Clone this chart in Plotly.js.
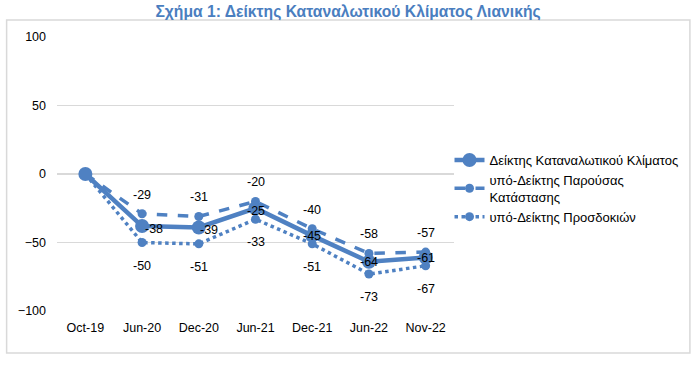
<!DOCTYPE html>
<html>
<head>
<meta charset="utf-8">
<script src="https://cdn.plot.ly/plotly-3.0.1.min.js"></script>
<style>html,body{margin:0;padding:0;background:#fff;}#chart{width:696px;height:367px;}</style>
</head>
<body>
<div id="chart"></div>
<script>
const categories = ["Oct-19", "Jun-20", "Dec-20", "Jun-21", "Dec-21", "Jun-22", "Nov-22"];
const climateIndex = [0, -38, -39, -25, -45, -64, -61];
const presentIndex = [0, -29, -31, -20, -40, -58, -57];
const expectIndex = [0, -50, -51, -33, -51, -73, -67];
const seriesNames = ["Δείκτης Καταναλωτικού Κλίματος", "υπό-Δείκτης Παρούσας<br>Κατάστασης", "υπό-Δείκτης Προσδοκιών"];
const yTicks = [-100, -50, 0, 50, 100];
const titleText = "Σχήμα 1: Δείκτης Καταναλωτικού Κλίματος Λιανικής";

const blue = "#4f81c2";
const font = "Liberation Sans, Arial, sans-serif";
const fs = 12.5;

const traces = [
  {x: categories, y: presentIndex, name: seriesNames[1], type: "scatter", mode: "lines+markers", legendrank: 2,
   line: {color: blue, width: 3.5, dash: "dash"}, marker: {color: blue, size: 9}},
  {x: categories, y: expectIndex, name: seriesNames[2], type: "scatter", mode: "lines+markers", legendrank: 3,
   line: {color: blue, width: 3.5, dash: "dot"}, marker: {color: blue, size: 9}},
  {x: categories, y: climateIndex, name: seriesNames[0], type: "scatter", mode: "lines+markers", legendrank: 1,
   line: {color: blue, width: 4.5}, marker: {color: blue, size: 14}}
];

const annotations = [];
const mainShiftX = [0, 12, 10, 0, 0, 0, 0];
const mainShiftY = [0, -3, -3, -3, 0, 0, 0];
categories.forEach((c, i) => {
  if (i === 0) return;
  annotations.push({x: c, y: presentIndex[i], text: String(presentIndex[i]), showarrow: false, yshift: 19, font: {family: font, size: fs, color: "#000"}});
  annotations.push({x: c, y: expectIndex[i], text: String(expectIndex[i]), showarrow: false, yshift: -23, font: {family: font, size: fs, color: "#000"}});
  annotations.push({x: c, y: climateIndex[i], text: String(climateIndex[i]), showarrow: false, xshift: mainShiftX[i], yshift: mainShiftY[i], font: {family: font, size: fs, color: "#000"}});
});

const W = 398, H = 274, L = 56.5, T = 37;
function px(x) { return (x - L) / W; }
function py(y) { return (T + H - y) / H; }

const layout = {
  width: 696, height: 367,
  margin: {l: L, r: 696 - L - W, t: T, b: 367 - T - H, pad: 0},
  paper_bgcolor: "#fff", plot_bgcolor: "#fff",
  title: {text: "<b>" + titleText + "</b>", font: {family: font, size: 15.7, color: "#4a7ebf"}, x: 0.5, xref: "container", xanchor: "center", y: 1 - 12/367, yref: "container", yanchor: "middle"},
  showlegend: true,
  legend: {x: px(450), y: py(145), xanchor: "left", yanchor: "top", font: {family: font, size: 13, color: "#000"},
           traceorder: "normal", itemwidth: 30, tracegroupgap: 0, bgcolor: "rgba(0,0,0,0)"},
  xaxis: {type: "category", categoryorder: "array", categoryarray: categories, range: [-0.5, 6.5],
          showgrid: false, zeroline: false, showline: false, ticks: "", automargin: false, ticklabelstandoff: 7,
          tickfont: {family: font, size: fs, color: "#000"}, fixedrange: true},
  yaxis: {range: [-100, 100], tickvals: yTicks, showgrid: true, gridcolor: "#d9d9d9", gridwidth: 1.3,
          zeroline: false, showline: false, ticks: "", ticklabelstandoff: 10, automargin: false,
          tickfont: {family: font, size: fs, color: "#000"}, fixedrange: true},
  annotations: annotations,
  shapes: [{type: "rect", xref: "paper", yref: "paper", x0: px(6), x1: px(691), y0: py(353), y1: py(20),
            line: {color: "#d9d9d9", width: 1.5}, fillcolor: "rgba(0,0,0,0)", layer: "below"}]
};

Plotly.newPlot("chart", traces, layout, {staticPlot: true, displayModeBar: false});
</script>
</body>
</html>
